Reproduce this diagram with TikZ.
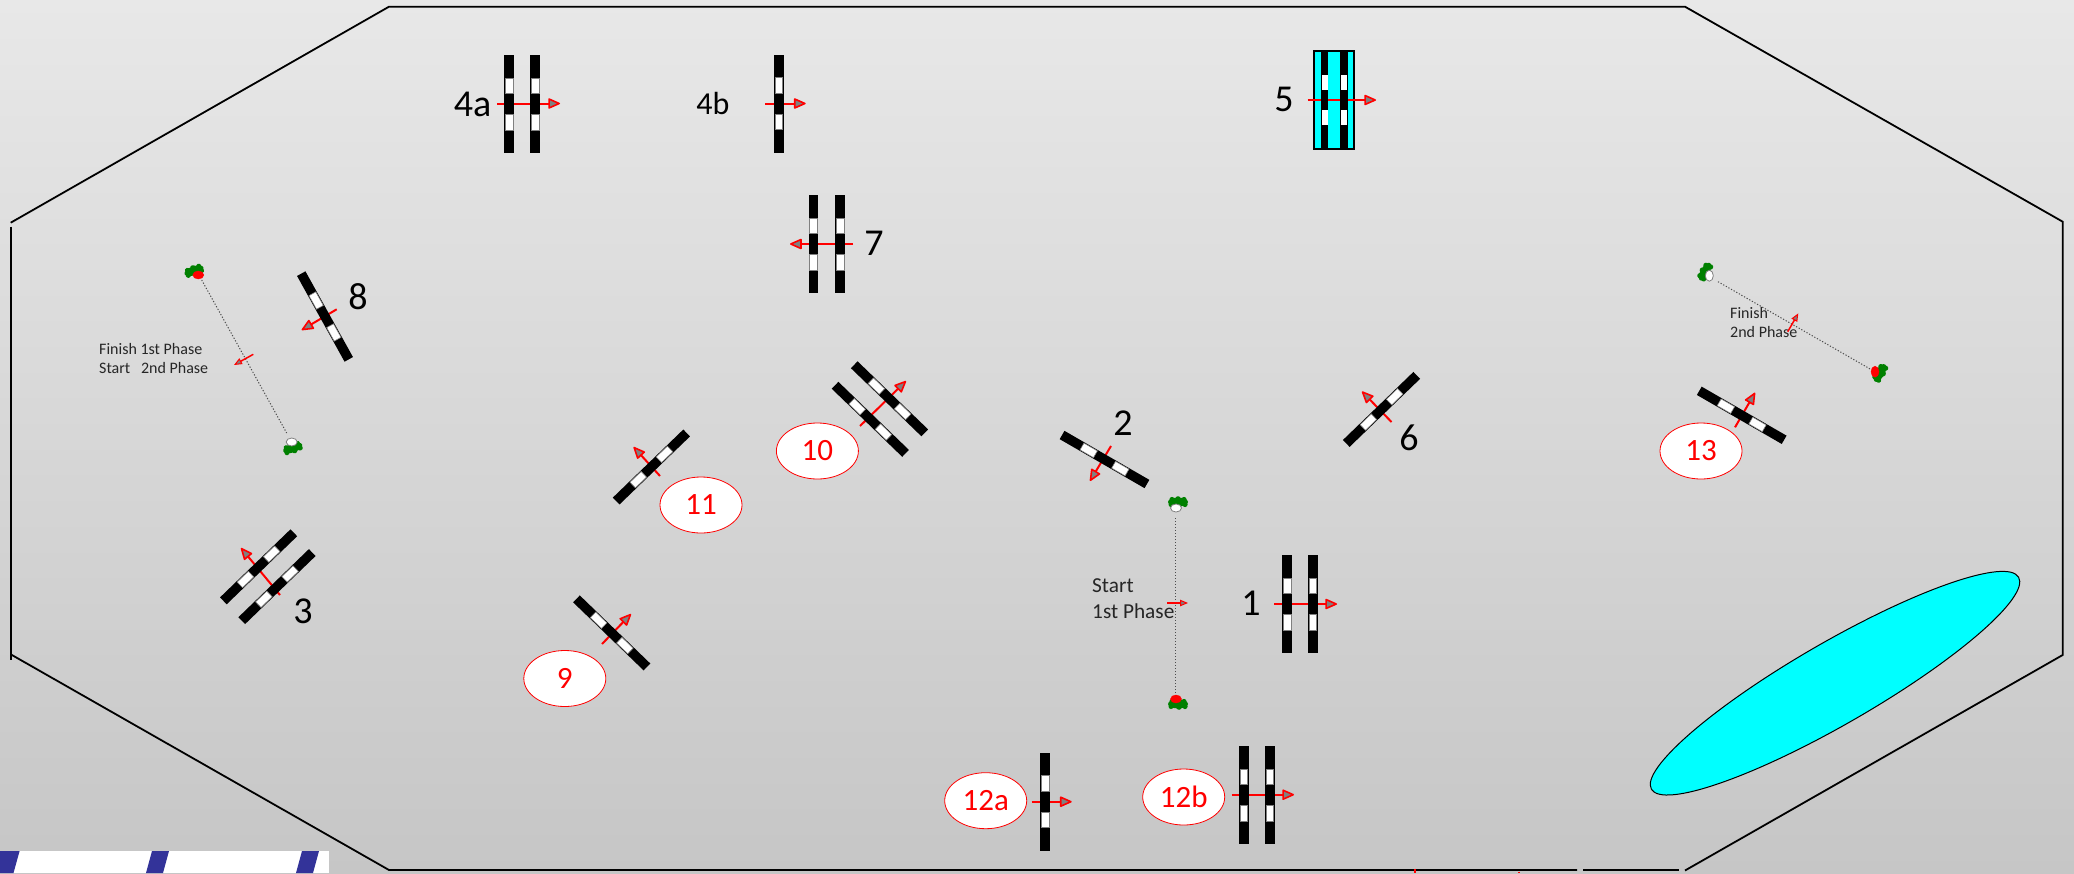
\documentclass[tikz,border=0pt]{standalone}
\usepackage{fontspec}
\setmainfont{Carlito}
\usetikzlibrary{arrows.meta,shapes.geometric}
\definecolor{bgtop}{HTML}{E8E8E8}
\definecolor{bgbot}{HTML}{C6C6C6}
\definecolor{stripe}{HTML}{333399}
\definecolor{pen}{HTML}{008000}
\definecolor{aqua}{HTML}{00FFFF}
\definecolor{signal}{HTML}{FF0000}
\tikzset{
  x=1pt,y=-1pt,
  outline/.style={draw=black,line width=1.8pt,line cap=butt},
  flow/.style={draw=signal,line width=2pt,-{Triangle[length=13pt,width=11pt,fill=gray,line width=1.6pt,round]}},
  flowsmall/.style={draw=signal,line width=1.5pt,-{Triangle[length=8pt,width=6.5pt,fill=gray,line width=1pt]}},
  num/.style={font=\fontsize{38}{38}\selectfont,text=black,inner sep=0pt},
  numb/.style={font=\fontsize{32}{32}\selectfont,text=black,inner sep=0pt},
  tag/.style={draw=signal,fill=white,ellipse,line width=.8pt,minimum width=82pt,minimum height=56pt,inner sep=0pt,text=signal,font=\fontsize{31}{31}\selectfont},
  note/.style={font=\fontsize{21.3}{26}\selectfont,text=black!85,inner sep=0pt,align=left,anchor=north west},
  notesmall/.style={note,font=\fontsize{16}{19.5}\selectfont},
  course/.style={draw=black!70,line width=1pt,dash pattern=on 1.2pt off 1.8pt},
  whitedot/.style={draw=gray,line width=.8pt,fill=white},
  reddot/.style={draw=signal,fill=signal},
}
\newcommand{\slat}{%
  \fill[black] (-4.8,-49) rectangle (4.8,49);
  \filldraw[fill=white,draw=black!50,line width=.6pt] (-3.9,-26) rectangle (3.9,-10.5);
  \filldraw[fill=white,draw=black!50,line width=.6pt] (-3.9,10.5) rectangle (3.9,26);
}
% single gate: x y rotation
\newcommand{\gateone}[3]{\begin{scope}[shift={(#1,#2)},rotate=#3]\slat\end{scope}}
% green scrub: x y rotation
\newcommand{\scrub}[3]{\begin{scope}[shift={(#1,#2)},rotate=#3]
  \fill[pen] (0,0) ellipse (10pt and 4.4pt);
  \fill[pen] (-6,-2.5) circle (2.6pt) (0,-3) circle (2.8pt) (6,-2.5) circle (2.6pt)
             (-7,2.5) circle (2.5pt) (1,3) circle (2.8pt) (7,2.5) circle (2.6pt);
\end{scope}}
\begin{document}
\begin{tikzpicture}
\useasboundingbox (0,0) rectangle (2074,873);
% background gradient
\shade[top color=bgtop,bottom color=bgbot] (0,0) rectangle (2074,873);
% bottom-left strip
\fill[white] (0,851) rectangle (329,873);
\fill[stripe] (0,851) -- (19.6,851) -- (13.5,873) -- (0,873) -- cycle;
\fill[stripe] (152,851) -- (169,851) -- (163,873) -- (146,873) -- cycle;
\fill[stripe] (302,851) -- (319,851) -- (313,873) -- (296,873) -- cycle;
% boundary
\draw[outline] (10.7,222.7) -- (389,6.7) -- (1685,6.7) -- (2062.7,221.7) -- (2062.7,655) -- (1685,870.5);
\draw[outline] (10.7,226.7) -- (10.7,660);
\draw[outline] (10.7,654.3) -- (389,870) -- (1577,870);
\draw[outline] (1583,870) -- (1679,870);
\draw[signal,line width=1.6pt] (1414.7,868.5) -- (1414.7,873);
\draw[signal,line width=1.2pt] (1519,871.5) -- (1519,873);
% water
\draw[black,line width=1pt,fill=aqua] (1835,683.2) ellipse [x radius=212,y radius=41,rotate=30];
% course 1
\draw[course] (1175.7,518) -- (1175.7,695);
\scrub{1178}{502}{0}\filldraw[whitedot] (1176,508) ellipse (5.5pt and 4pt);
\scrub{1178}{704}{0}\filldraw[reddot] (1176,699) ellipse (5.5pt and 4pt);
\node[note] (n1) at (1092,578) {Start\\1st Phase};
\draw[flowsmall] (1167,603) -- (1188,603);
% course 2
\draw[course] (201.7,280) -- (286.7,433);
\scrub{194}{270.7}{20}\filldraw[reddot] (198.3,275) ellipse (5.5pt and 4pt);
\scrub{292.7}{448}{20}\filldraw[whitedot] (291.7,442) ellipse (5.5pt and 4pt);
\node[notesmall] (n2) at (99,343) {Finish 1st Phase\\Start\hspace{.45em} 2nd Phase};
\draw[flowsmall] (253.3,354.3) -- (234,365);
% course 3
\draw[course] (1718,281.7) -- (1870.7,369.3);
\scrub{1705}{271.7}{60}\filldraw[whitedot] (1709.3,275.7) ellipse (4pt and 5.5pt);
\scrub{1880}{373}{60}\filldraw[reddot] (1875,371.7) ellipse (4pt and 5.5pt);
\node[notesmall] (n3) at (1730,307) {Finish\\2nd Phase};
\draw[flowsmall] (1787.7,331.7) -- (1798.3,313.3);
% gates (arrow first: the slats lie over it)
\draw[flow] (1274,604) -- (1337,604);
\gateone{1287}{604}{0}\gateone{1312.7}{604}{0}
\node[num] (l1) at (1251,603) {1};
\draw[flow] (1111,446) -- (1090,481);
\gateone{1104.5}{459.5}{60}
\node[num] (l2) at (1123,423) {2};
\draw[flow] (280,595) -- (241,548);
\gateone{258.6}{566.8}{-46}\gateone{277}{586.6}{-46}
\node[num] (l3) at (303,611) {3};
\draw[flow] (497,103.5) -- (560,103.5);
\gateone{509}{104}{0}\gateone{535}{104}{0}
\node[num] (l4a) at (472.7,104) {4a};
\draw[flow] (765,103.5) -- (805.7,103.5);
\gateone{778.7}{103.5}{0}
\node[numb] (l4b) at (713,103) {4b};
% gate 5 on water
\draw[black,line width=2pt,fill=aqua] (1314.3,50.7) rectangle (1354.3,149.3);
\draw[flow] (1307.7,100) -- (1376,100);
\foreach \gx in {1324.7,1344}{
  \fill[black] (\gx-3.6,50.7) rectangle (\gx+3.6,149.3);
  \fill[white] (\gx-3,75) rectangle (\gx+3,90);
  \fill[white] (\gx-3,110) rectangle (\gx+3,125);
}
\node[num] (l5) at (1284,99) {5};
\draw[flow] (1391.5,422) -- (1362,391.5);
\gateone{1381.5}{409.4}{-46}
\node[num] (l6) at (1409,438) {6};
\draw[flow] (853,244) -- (790,244);
\gateone{813.5}{244}{0}\gateone{840}{244}{0}
\node[num] (l7) at (874,243) {7};
\draw[flow] (336.7,309.3) -- (301.7,330);
\gateone{325}{316.5}{29}
\node[num] (l8) at (358,297) {8};
\draw[flow] (602,644) -- (631,614);
\gateone{611.7}{632.9}{46}
\node[tag] (t9) at (564.8,678.5) {9};
\draw[flow] (860,426) -- (906,381);
\gateone{870.3}{419.3}{46}\gateone{889.5}{398.8}{46}
\node[tag] (t10) at (817.4,451) {10};
\draw[flow] (660,476) -- (633.6,447);
\gateone{651.4}{467}{-46}
\node[tag] (t11) at (701,505) {11};
\draw[flow] (1031.7,801.7) -- (1071.7,801.7);
\gateone{1045}{801.7}{0}
\node[tag] (t12a) at (985.7,800.7) {12a};
\draw[flow] (1231.7,794.7) -- (1294,794.7);
\gateone{1243.7}{795}{0}\gateone{1269.7}{795}{0}
\node[tag] (t12b) at (1183.7,797) {12b};
\draw[flow] (1735,427.3) -- (1755,392.7);
\gateone{1741.7}{415.3}{60}
\node[tag] (t13) at (1701,451) {13};
\end{tikzpicture}
\end{document}
